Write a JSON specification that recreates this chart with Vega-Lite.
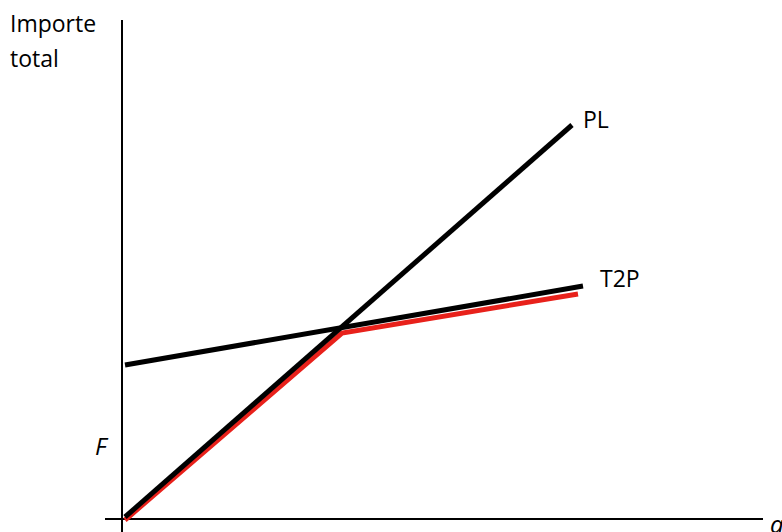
{
  "$schema": "https://vega.github.io/schema/vega-lite/v6.json",
  "width": 782,
  "height": 532,
  "autosize": {"type": "none"},
  "padding": 0,
  "background": "white",
  "config": {"view": {"stroke": null}},
  "datasets": {
    "axes": [
      {"axis": "y", "x": 0, "y": -13},
      {"axis": "y", "x": 0, "y": 499},
      {"axis": "x", "x": -17, "y": 0},
      {"axis": "x", "x": 641, "y": 0}
    ],
    "lines": [
      {"series": "red", "q": 3, "v": -1},
      {"series": "red", "q": 220, "v": 186},
      {"series": "red", "q": 456, "v": 225},
      {"series": "PL", "q": 3, "v": 2},
      {"series": "PL", "q": 450, "v": 394},
      {"series": "T2P", "q": 3, "v": 154},
      {"series": "T2P", "q": 461, "v": 233}
    ],
    "labels": [
      {"text": "Importe", "x": -112, "y": 487},
      {"text": "total", "x": -112, "y": 452},
      {"text": "PL", "x": 461, "y": 391},
      {"text": "T2P", "x": 478, "y": 232}
    ],
    "ilabels": [
      {"text": "F", "x": -27, "y": 64},
      {"text": "q", "x": 648, "y": -14}
    ]
  },
  "layer": [
    {
      "data": {"name": "axes"},
      "mark": {"type": "line", "color": "black", "strokeWidth": 2},
      "encoding": {
        "x": {"field": "x", "type": "quantitative", "scale": {"domain": [-122, 660], "nice": false, "zero": false}, "axis": null},
        "y": {"field": "y", "type": "quantitative", "scale": {"domain": [-13, 519], "nice": false, "zero": false}, "axis": null},
        "detail": {"field": "axis"}
      }
    },
    {
      "data": {"name": "lines"},
      "mark": {"type": "line", "strokeWidth": 5, "strokeCap": "butt"},
      "encoding": {
        "x": {"field": "q", "type": "quantitative"},
        "y": {"field": "v", "type": "quantitative"},
        "color": {"field": "series", "type": "nominal", "scale": {"domain": ["red", "PL", "T2P"], "range": ["#e8211b", "black", "black"]}, "legend": null},
        "order": {"field": "q", "type": "quantitative"}
      }
    },
    {
      "data": {"name": "labels"},
      "mark": {"type": "text", "align": "left", "baseline": "alphabetic", "font": "Open Sans", "fontSize": 23, "color": "black"},
      "encoding": {
        "x": {"field": "x", "type": "quantitative"},
        "y": {"field": "y", "type": "quantitative"},
        "text": {"field": "text"}
      }
    },
    {
      "data": {"name": "ilabels"},
      "mark": {"type": "text", "align": "left", "baseline": "alphabetic", "font": "Open Sans", "fontSize": 24, "fontStyle": "italic", "color": "black"},
      "encoding": {
        "x": {"field": "x", "type": "quantitative"},
        "y": {"field": "y", "type": "quantitative"},
        "text": {"field": "text"}
      }
    }
  ]
}
